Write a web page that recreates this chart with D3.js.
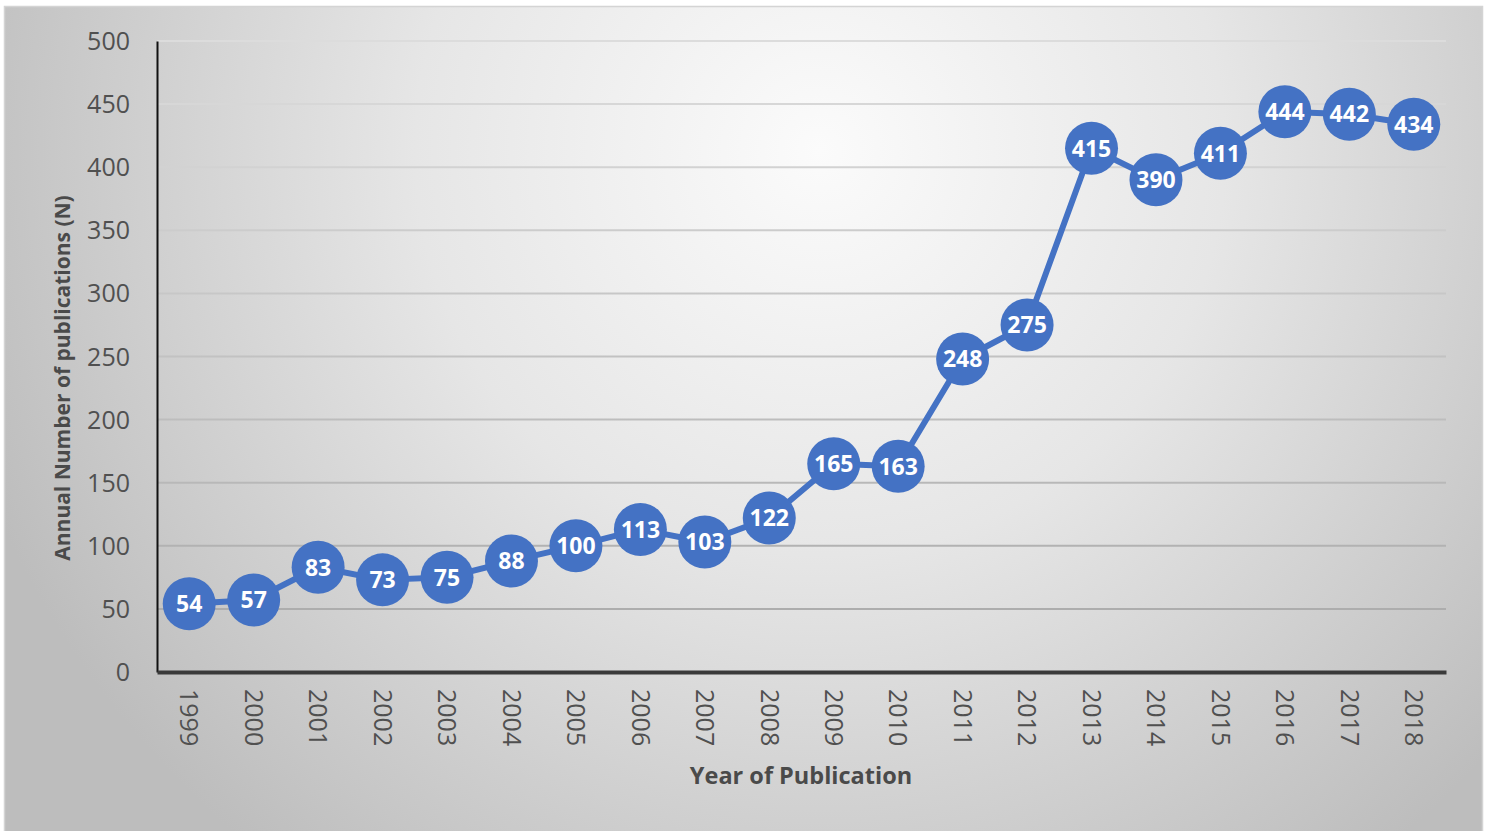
<!DOCTYPE html>
<html>
<head>
<meta charset="utf-8">
<script src="https://cdn.jsdelivr.net/npm/d3@7"></script>
<style>
  html, body { margin: 0; padding: 0; background: #ffffff; }
  svg { display: block; }
</style>
</head>
<body>
<svg id="chart" width="1492" height="831"></svg>
<script>
const years = ["1999","2000","2001","2002","2003","2004","2005","2006","2007","2008",
               "2009","2010","2011","2012","2013","2014","2015","2016","2017","2018"];
const publications = [54, 57, 83, 73, 75, 88, 100, 113, 103, 122,
                      165, 163, 248, 275, 415, 390, 411, 444, 442, 434];
const yTicks = [0, 50, 100, 150, 200, 250, 300, 350, 400, 450, 500];
const xTitle = "Year of Publication";
const yTitle = "Annual Number of publications (N)";

const svg = d3.select("#chart");
const W = 1492, H = 831;
const margin = { left: 157, right: 46, top: 41, bottom: 159 };
const plotW = W - margin.left - margin.right;
const plotH = H - margin.top - margin.bottom;

const defs = svg.append("defs");
const grad = defs.append("radialGradient")
  .attr("id", "bg").attr("gradientUnits", "userSpaceOnUse")
  .attr("cx", 820).attr("cy", 150).attr("r", 900)
  .attr("fx", 820).attr("fy", 150);
grad.append("stop").attr("offset", "0%").attr("stop-color", "#fbfbfb");
grad.append("stop").attr("offset", "45%").attr("stop-color", "#e6e6e6");
grad.append("stop").attr("offset", "100%").attr("stop-color", "#bdbdbd");

svg.append("rect").attr("x", 4.5).attr("y", 6.5).attr("width", 1478).attr("height", 830)
  .attr("fill", "url(#bg)").attr("stroke", "#d4d4d4").attr("stroke-width", 1.5);

const g = svg.append("g").attr("transform", `translate(${margin.left},${margin.top})`);

const x = d3.scaleBand().domain(years).range([0, plotW]).paddingInner(0).paddingOuter(0);
const y = d3.scaleLinear().domain([0, 500]).range([plotH, 0]);

const font = "'Open Sans', 'DejaVu Sans', sans-serif";
const gridColor = d3.scaleLinear().domain([500, 0]).range(["#dcdcdc", "#a8a8a8"]);

// gridlines
g.append("g").selectAll("line").data(yTicks.filter(d => d > 0)).join("line")
  .attr("x1", 0).attr("x2", plotW)
  .attr("y1", d => y(d)).attr("y2", d => y(d))
  .attr("stroke", d => gridColor(d)).attr("stroke-width", 2);

// y axis
const yAxis = g.append("g").call(d3.axisLeft(y).tickValues(yTicks).tickSize(0).tickPadding(27));
yAxis.select(".domain").attr("stroke", "#111").attr("stroke-width", 2);
yAxis.selectAll("text").attr("font-family", font).attr("font-size", 25)
  .attr("fill", "#505050").attr("dy", "0.34em");

// x axis
const xAxis = g.append("g").attr("transform", `translate(0,${plotH})`)
  .call(d3.axisBottom(x).tickSize(0).tickPadding(0));
xAxis.select(".domain").attr("stroke", "#3a3a3a").attr("stroke-width", 4);
xAxis.selectAll("text")
  .attr("font-family", font).attr("font-size", 25).attr("fill", "#505050")
  .attr("text-anchor", "start")
  .attr("transform", "translate(0,17) rotate(90)")
  .attr("x", 0).attr("y", 0).attr("dy", "0.35em");

// line
const cx = d => x(d) + x.bandwidth() / 2;
const line = d3.line().x((d, i) => cx(years[i])).y(d => y(d));
g.append("path").datum(publications)
  .attr("d", line).attr("fill", "none")
  .attr("stroke", "#4472c4").attr("stroke-width", 6).attr("stroke-linejoin", "round");

// markers
const pts = g.append("g").selectAll("g").data(publications).join("g")
  .attr("transform", (d, i) => `translate(${cx(years[i])},${y(d)})`);
pts.append("circle").attr("r", 26.5).attr("fill", "#4472c4");
pts.append("text").text(d => d)
  .attr("text-anchor", "middle").attr("dy", "0.36em")
  .attr("font-family", font).attr("font-weight", 700).attr("font-size", 23)
  .attr("fill", "#ffffff");

// axis titles
svg.append("text").text(xTitle)
  .attr("x", 801).attr("y", 784)
  .attr("text-anchor", "middle")
  .attr("font-family", font).attr("font-weight", 700).attr("font-size", 23.5)
  .attr("fill", "#4a4a4a");

svg.append("text").text(yTitle)
  .attr("transform", "translate(70,378) rotate(-90)")
  .attr("text-anchor", "middle")
  .attr("font-family", font).attr("font-weight", 700).attr("font-size", 21)
  .attr("fill", "#4a4a4a");
</script>
</body>
</html>
